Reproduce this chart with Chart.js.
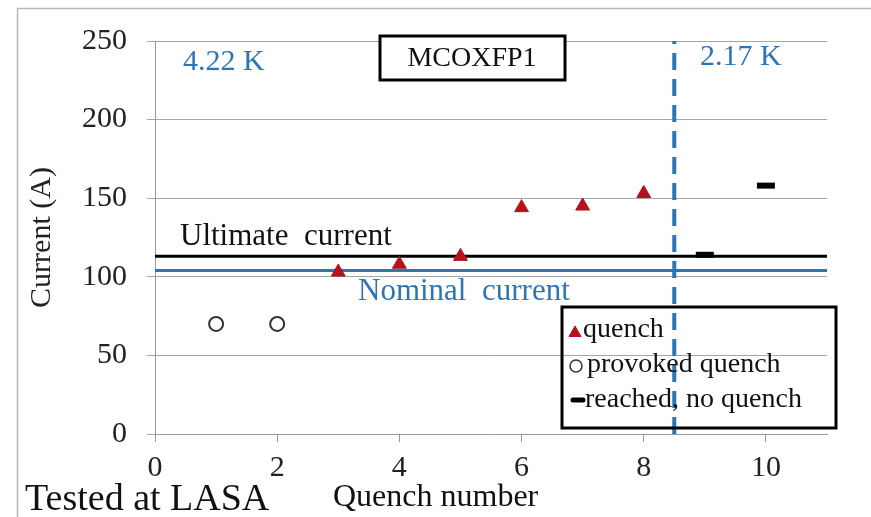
<!DOCTYPE html>
<html>
<head>
<meta charset="utf-8">
<script src="https://cdn.jsdelivr.net/npm/chart.js@4.4.1/dist/chart.umd.min.js"></script>
<style>
  html, body { margin: 0; padding: 0; background: #fff; }
</style>
</head>
<body>
<canvas id="myChart" width="871" height="517"></canvas>
<script>
// data
const quenchNum = [3, 4, 5, 6, 7, 8];
const quenchCurrent = [103, 108, 113, 144, 145, 153];
const provokedNum = [1, 2];
const provokedCurrent = [70, 70];
const reachedNum = [9, 10];
const reachedCurrent = [114, 158];
const ultimateCurrent = 113;
const nominalCurrent = 104;
const tempChange = 8.5;
const xTicks = [0, 2, 4, 6, 8, 10];
const yTicks = [0, 50, 100, 150, 200, 250];

const serif = "'Liberation Serif', 'Times New Roman', serif";
const blue = '#2e75b6';
const red = '#b5121b';

function pts(xs, ys) {
  return xs.map((x, i) => ({ x: x, y: ys[i] }));
}

const extras = {
  id: 'extras',
  beforeDraw(chart) {
    const ctx = chart.ctx;
    ctx.save();
    ctx.fillStyle = '#fff';
    ctx.fillRect(0, 0, chart.width, chart.height);
    ctx.strokeStyle = '#b8b8b8';
    ctx.lineWidth = 1.5;
    ctx.strokeRect(17.5, 8.5, 900, 600);
    ctx.restore();
  },
  afterDraw(chart) {
    const ctx = chart.ctx;
    ctx.save();
    ctx.textBaseline = 'middle';
    ctx.textAlign = 'left';

    // title box
    ctx.fillStyle = '#fff';
    ctx.fillRect(380, 36, 185, 44);
    ctx.strokeStyle = '#000';
    ctx.lineWidth = 3;
    ctx.strokeRect(380, 36, 185, 44);
    ctx.fillStyle = '#111';
    ctx.font = '28px ' + serif;
    ctx.textAlign = 'center';
    ctx.fillText('MCOXFP1', 472, 59);

    ctx.textAlign = 'left';
    ctx.fillStyle = blue;
    ctx.font = '30px ' + serif;
    ctx.fillText('4.22 K', 183, 62);
    ctx.fillText('2.17 K', 700, 57);

    ctx.font = '31px ' + serif;
    ctx.fillStyle = '#111';
    ctx.fillText('Ultimate  current', 180, 237);
    ctx.fillStyle = blue;
    ctx.fillText('Nominal  current', 358, 292);

    // legend
    ctx.strokeStyle = '#000';
    ctx.lineWidth = 3;
    ctx.strokeRect(562, 307, 274, 121);
    ctx.font = '28px ' + serif;
    ctx.fillStyle = red;
    ctx.strokeStyle = red;
    ctx.lineWidth = 1;
    Chart.helpers.drawPoint(ctx, { pointStyle: 'triangle', radius: 7, borderWidth: 1 }, 575, 333);
    ctx.fillStyle = '#fff';
    ctx.strokeStyle = '#333';
    ctx.lineWidth = 1.5;
    Chart.helpers.drawPoint(ctx, { pointStyle: 'circle', radius: 6, borderWidth: 1.5 }, 576, 366);
    ctx.strokeStyle = '#000';
    ctx.lineWidth = 5;
    ctx.lineCap = 'round';
    Chart.helpers.drawPoint(ctx, { pointStyle: 'line', radius: 5, borderWidth: 5 }, 578, 400);
    ctx.fillStyle = '#111';
    ctx.fillText('quench', 583, 330);
    ctx.fillText('provoked quench', 587, 365);
    ctx.fillText('reached, no quench', 585, 400);

    // bottom texts
    ctx.font = '32px ' + serif;
    ctx.fillText('Quench number', 333, 498);
    ctx.font = '38px ' + serif;
    ctx.fillText('Tested at LASA', 25, 500);
    ctx.restore();
  }
};

const ctx = document.getElementById('myChart').getContext('2d');
const myChart = new Chart(ctx, {
  type: 'scatter',
  data: {
    datasets: [
      {
        label: 'quench',
        data: pts(quenchNum, quenchCurrent),
        pointStyle: 'triangle',
        pointRadius: 8,
        backgroundColor: red,
        borderColor: red,
        borderWidth: 1,
        order: 1
      },
      {
        label: 'provoked quench',
        data: pts(provokedNum, provokedCurrent),
        pointStyle: 'circle',
        pointRadius: 7,
        backgroundColor: '#fff',
        borderColor: '#333',
        borderWidth: 2,
        order: 1
      },
      {
        label: 'reached, no quench',
        data: pts(reachedNum, reachedCurrent),
        pointStyle: 'line',
        pointRadius: 9,
        borderColor: '#000',
        borderWidth: 6,
        order: 1
      },
      {
        type: 'line',
        label: 'Ultimate current',
        data: [{ x: 0, y: ultimateCurrent }, { x: 11, y: ultimateCurrent }],
        borderColor: '#000',
        borderWidth: 3,
        pointRadius: 0,
        order: 3
      },
      {
        type: 'line',
        label: 'Nominal current',
        data: [{ x: 0, y: nominalCurrent }, { x: 11, y: nominalCurrent }],
        borderColor: blue,
        borderWidth: 3,
        pointRadius: 0,
        order: 3
      },
      {
        type: 'line',
        label: 'T change',
        data: [{ x: tempChange, y: 0 }, { x: tempChange, y: 250 }],
        borderColor: blue,
        borderWidth: 4,
        borderDash: [17, 9],
        pointRadius: 0,
        order: 2
      }
    ]
  },
  options: {
    responsive: false,
    animation: false,
    layout: { padding: { left: 18, right: 44, top: 41, bottom: 0 } },
    plugins: {
      legend: { display: false },
      tooltip: { enabled: false }
    },
    scales: {
      x: {
        type: 'linear',
        min: 0,
        max: 11,
        afterBuildTicks: s => { s.ticks = xTicks.map(v => ({ value: v })); },
        afterFit: s => { s.height = 83; },
        grid: { drawOnChartArea: false, drawTicks: true, tickLength: 8, color: '#999' },
        border: { color: '#999', width: 1 },
        ticks: { font: { family: serif, size: 30 }, color: '#222', padding: 8 }
      },
      y: {
        min: 0,
        max: 250,
        afterBuildTicks: s => { s.ticks = yTicks.map(v => ({ value: v })); },
        afterFit: s => { s.width = 137; },
        grid: { color: '#a6a6a6', tickLength: 8 },
        border: { color: '#999', width: 1 },
        ticks: { font: { family: serif, size: 30 }, color: '#222', padding: 20 },
        title: {
          display: true,
          text: 'Current (A)',
          font: { family: serif, size: 30 },
          color: '#222',
          padding: 6
        }
      }
    }
  },
  plugins: [extras]
});
</script>
</body>
</html>
